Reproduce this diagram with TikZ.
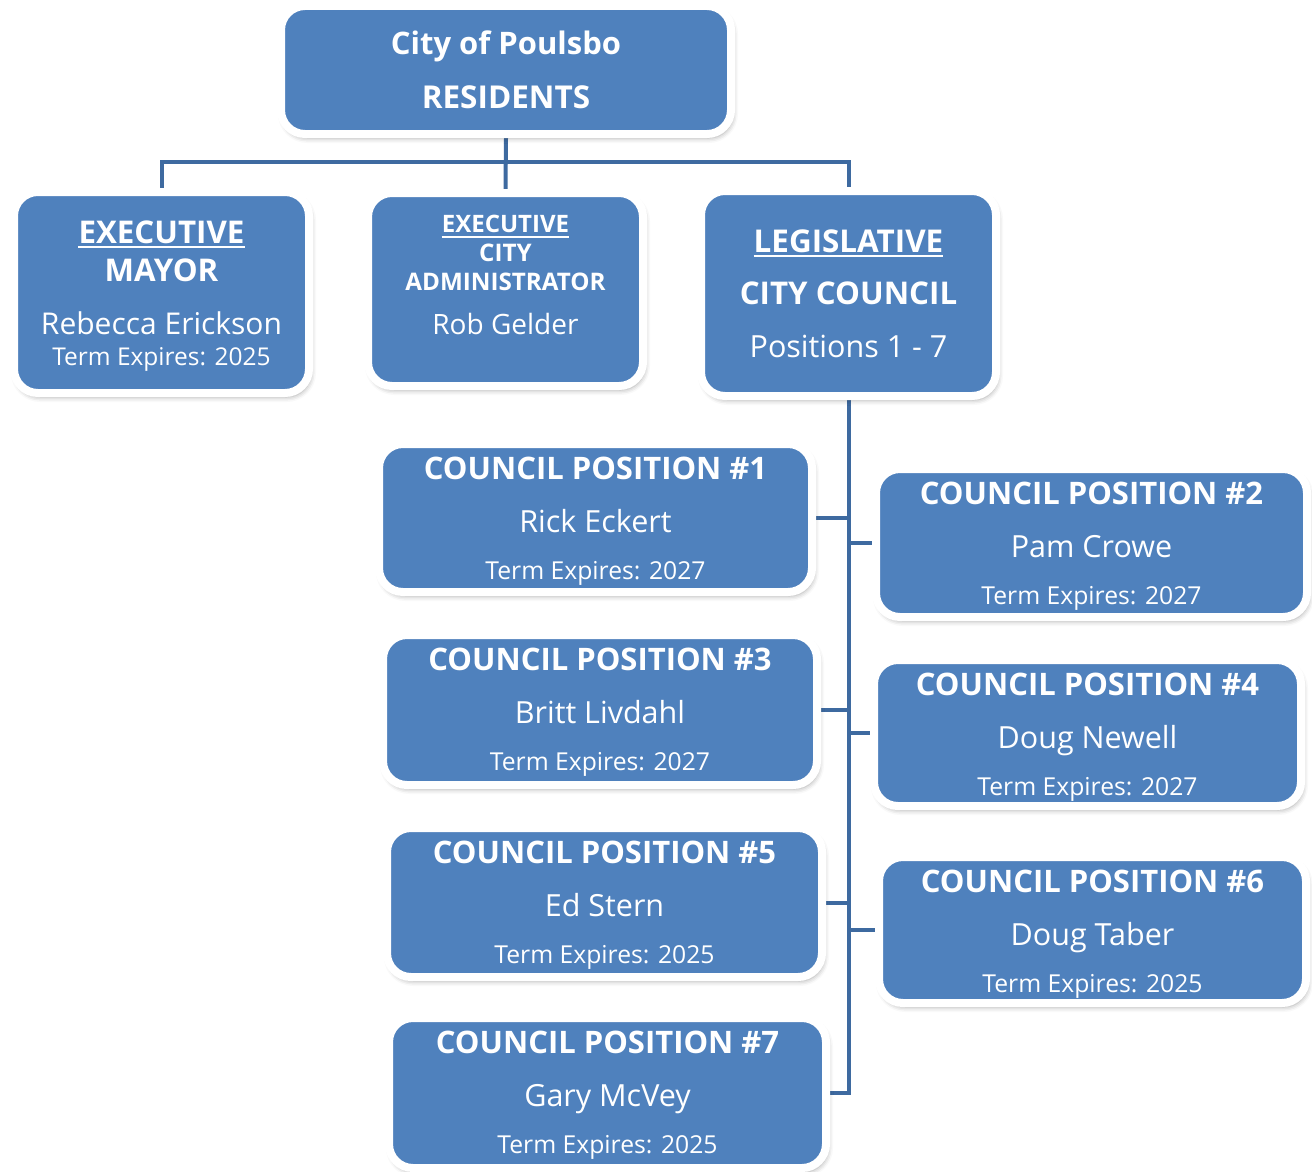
\documentclass[tikz,border=0pt]{standalone}
\usepackage{fontspec}
\setmainfont{Open Sans}
\usetikzlibrary{shadows.blur,backgrounds}

\definecolor{boxblue}{RGB}{79,129,189}
\definecolor{linkblue}{RGB}{62,106,160}

\tikzset{
  orgbox/.style={draw=white, line width=8pt, fill=boxblue, rounded corners=24pt,
    inner sep=0pt, blur shadow={shadow xshift=2pt, shadow yshift=-4pt,
    shadow blur radius=5pt, shadow opacity=35}},
  link/.style={draw=linkblue, line width=4pt},
  txt/.style={text=white, inner sep=0pt, anchor=base},
  uline/.style={draw=white, line width=2pt}
}

% box from its border mid-line corners: name, x1, y1, x2, y2
\newcommand\orgnode[5]{%
  \node[orgbox, minimum width={#4-#2}, minimum height={#5-#3}]
    (#1) at ({(#2+#4)/2},{(#3+#5)/2}) {};}
% one text line: name, x, cap centre y, size, text
\newcommand\tline[5]{%
  \node[txt, font=\fontsize{#4}{#4}\selectfont] (#1) at ({#2},{#3+0.357*#4}) {#5};}
\newcommand\uline[1]{\draw[uline] ([yshift=-4pt]#1.base west) -- ([yshift=-4pt]#1.base east);}
% council seat: name, x1, y1, x2, y2, number, member, year
\newcommand\seat[8]{%
  \orgnode{#1}{#2}{#3}{#4}{#5}
  \tline{#1a}{(#2+#4)/2}{#3+24}{31}{\bfseries COUNCIL POSITION \##6}
  \tline{#1b}{(#2+#4)/2}{#3+78}{30.5}{#7}
  \tline{#1c}{(#2+#4)/2}{#3+127}{24.7}{Term Expires: #8}}

\begin{document}
\begin{tikzpicture}[x=1pt, y=-1pt]
\useasboundingbox (0,0) rectangle (1312,1172);

% top level
\orgnode{top}{281}{6}{731}{134}
\tline{topa}{506}{43}{31}{\bfseries City of Poulsbo}
\tline{topb}{506}{97}{31.5}{\bfseries RESIDENTS}

% executive: mayor
\orgnode{mayor}{14}{192}{309}{393}
\tline{maya}{161.5}{232}{31.3}{\bfseries EXECUTIVE}
\uline{maya}
\tline{mayb}{161.5}{270}{31.3}{\bfseries MAYOR}
\tline{mayc}{161.5}{324}{30}{Rebecca Erickson}
\tline{mayd}{161.5}{357}{24.5}{Term Expires: 2025}

% executive: city administrator
\orgnode{admin}{368}{193}{643}{386}
\tline{adma}{505.5}{224}{24}{\bfseries EXECUTIVE}
\uline{adma}
\tline{admb}{505.5}{253}{24.2}{\bfseries CITY}
\tline{admc}{505.5}{282}{24.2}{\bfseries ADMINISTRATOR}
\tline{admd}{505.5}{325}{28}{Rob Gelder}

% legislative
\orgnode{legis}{701}{191}{996}{396}
\tline{lega}{848.5}{241}{31.4}{\bfseries LEGISLATIVE}
\uline{lega}
\tline{legb}{848.5}{293}{31.3}{\bfseries CITY COUNCIL}
\tline{legc}{848.5}{347}{30.5}{Positions 1 - 7}

% council seats
\seat{cA}{379}{444}{812}{592}{1}{Rick Eckert}{2027}
\seat{cB}{876}{469}{1307}{617}{2}{Pam Crowe}{2027}
\seat{cC}{383}{635}{817}{785}{3}{Britt Livdahl}{2027}
\seat{cD}{874}{660}{1301}{806}{4}{Doug Newell}{2027}
\seat{cE}{387}{828}{822}{977}{5}{Ed Stern}{2025}
\seat{cF}{879}{857}{1306}{1003}{6}{Doug Taber}{2025}
\seat{cG}{389}{1018}{826}{1168}{7}{Gary McVey}{2025}

% connectors
\begin{scope}[on background layer]
  \coordinate (bus) at (505.5,162);
  \draw[link] (top.south) -- (admin.north);
  \draw[link] (mayor.north) -- (mayor.north |- bus) -- (legis.north |- bus) -- (legis.north);
  \draw[link] (legis.south) |- (cG.east);
  \draw[link] (cA.east) -- (cA.east -| legis.south);
  \draw[link] (cC.east) -- (cC.east -| legis.south);
  \draw[link] (cE.east) -- (cE.east -| legis.south);
  \draw[link] (cB.west) -- (cB.west -| legis.south);
  \draw[link] (cD.west) -- (cD.west -| legis.south);
  \draw[link] (cF.west) -- (cF.west -| legis.south);
\end{scope}
\end{tikzpicture}
\end{document}
